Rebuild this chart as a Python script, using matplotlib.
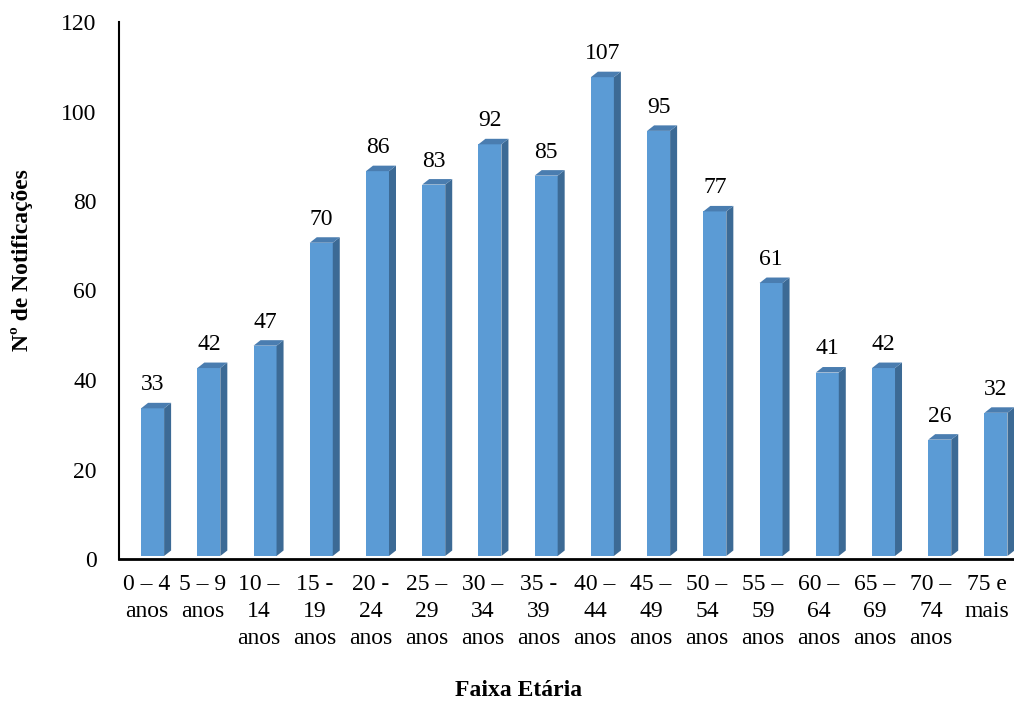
import matplotlib
matplotlib.use("Agg")
import matplotlib.pyplot as plt
from matplotlib.patches import Polygon
import numpy as np

categories = ["0 – 4\nanos", "5 – 9\nanos", "10 –\n14\nanos", "15 -\n19\nanos",
              "20 -\n24\nanos", "25 –\n29\nanos", "30 –\n34\nanos", "35 -\n39\nanos",
              "40 –\n44\nanos", "45 –\n49\nanos", "50 –\n54\nanos", "55 –\n59\nanos",
              "60 –\n64\nanos", "65 –\n69\nanos", "70 –\n74\nanos", "75 e\nmais"]
values = [33, 42, 47, 70, 86, 83, 92, 85, 107, 95, 77, 61, 41, 42, 26, 32]
yticks = [0, 20, 40, 60, 80, 100, 120]

plt.rcParams['font.family'] = ['Liberation Serif', 'DejaVu Serif']

W, H = 1014, 704
fig = plt.figure(figsize=(W / 100, H / 100), dpi=100)
ax = fig.add_axes([119 / W, 145 / H, 896 / W, 537 / H])
ax.set_xlim(-0.5, 15.5)
ax.set_ylim(0, 120)

front_c = '#5B9BD5'
side_c = '#3C6A95'
top_c = '#4A7DB0'

pxx = 1 / 56.0
pxy = 120 / 537.0
half_w = 11.5 * pxx
dx = 7 * pxx
dy = 5.5 * pxy
lift = 3 * pxy

fs = 17

x = np.arange(len(values))
for i, v in enumerate(values):
    c = x[i] + 0.1 + 0.004 * i
    xl, xr = c - half_w, c + half_w
    y0, y1 = lift, v + lift
    ax.add_patch(Polygon([(xl, y0), (xr, y0), (xr, y1), (xl, y1)], closed=True,
                         facecolor=front_c, edgecolor='none', clip_on=False, zorder=3))
    ax.add_patch(Polygon([(xr, y0), (xr + dx, y0 + dy), (xr + dx, y1 + dy), (xr, y1)],
                         closed=True, facecolor=side_c, edgecolor='none', clip_on=False, zorder=3))
    ax.add_patch(Polygon([(xl, y1), (xr, y1), (xr + dx, y1 + dy), (xl + dx, y1 + dy)],
                         closed=True, facecolor=top_c, edgecolor='none', clip_on=False, zorder=3))
    ax.annotate(str(v), (c, y1), xytext=(0, 13), textcoords='offset points',
                ha='center', va='baseline', fontsize=fs, color='black')

ax.set_xticks(x)
ax.set_xticklabels(categories, fontsize=fs, linespacing=1.38)
ax.set_yticks(yticks)
ax.set_yticklabels([str(t) for t in yticks], fontsize=fs)
ax.tick_params(axis='both', length=0)
ax.tick_params(axis='x', pad=11)
ax.tick_params(axis='y', pad=16)

for s in ['top', 'right']:
    ax.spines[s].set_visible(False)
ax.spines['left'].set_linewidth(1.5)
ax.spines['bottom'].set_linewidth(2)
ax.spines['bottom'].set_clip_on(False)

fig.text(22 / W, 1 - 260 / H, 'Nº de Notificações', rotation=90, ha='center', va='center',
         fontsize=fs, fontweight='bold')
fig.text(519 / W, 1 - 691 / H, 'Faixa Etária', ha='center', va='center',
         fontsize=fs, fontweight='bold')

fig.savefig('out.png', dpi=100)
